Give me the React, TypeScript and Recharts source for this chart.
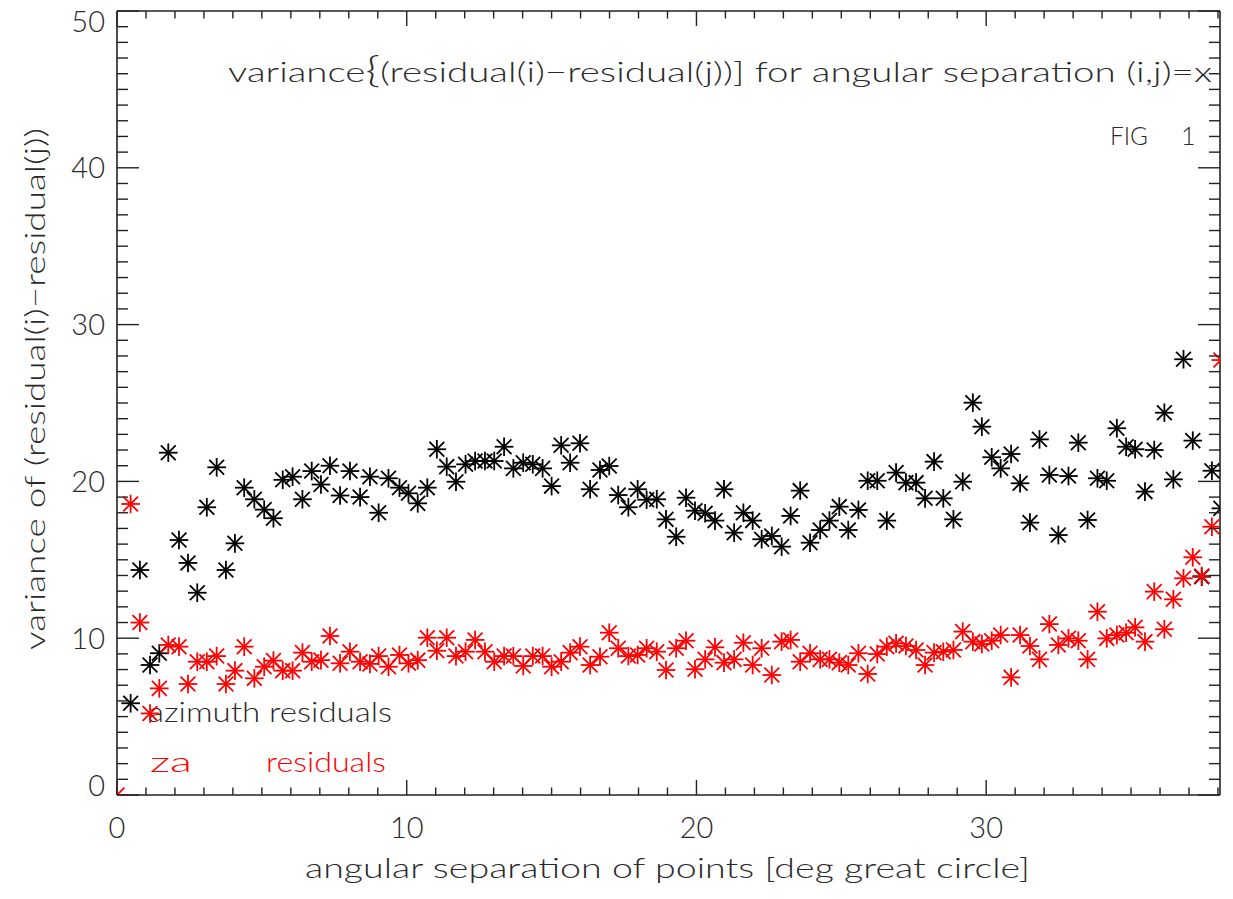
import React from 'react';
import { ScatterChart, Scatter, XAxis, YAxis, Customized } from 'recharts';

// angular separation [deg great circle]; first slot is the x=0 point
const separation = [
  0.0, 0.47, 0.79, 1.14, 1.46, 1.77, 2.14, 2.45, 2.77, 3.1, 3.44, 3.76, 4.07, 4.39, 4.74, 5.08, 5.4, 5.72, 6.06,
  6.4, 6.72, 7.04, 7.35, 7.7, 8.04, 8.39, 8.73, 9.03, 9.37, 9.75, 10.06, 10.38, 10.71, 11.04, 11.38, 11.7,
  12.03, 12.36, 12.7, 13.02, 13.36, 13.68, 14.02, 14.35, 14.69, 15.0, 15.33, 15.64, 15.98, 16.33, 16.67,
  16.99, 17.3, 17.65, 17.97, 18.28, 18.63, 18.95, 19.3, 19.64, 19.95, 20.3, 20.64, 20.95, 21.3, 21.62,
  21.94, 22.25, 22.6, 22.94, 23.25, 23.58, 23.92, 24.27, 24.59, 24.93, 25.24, 25.59, 25.91, 26.24, 26.57,
  26.89, 27.23, 27.58, 27.89, 28.2, 28.52, 28.87, 29.19, 29.54, 29.85, 30.19, 30.5, 30.86, 31.17, 31.51,
  31.84, 32.18, 32.49, 32.84, 33.18, 33.5, 33.84, 34.16, 34.51, 34.83, 35.14, 35.48, 35.8, 36.15, 36.46,
  36.81, 37.13, 37.44, 37.79, 38.1,
];

// variance of (residual(i)-residual(j)), azimuth residuals (black)
const azimuthVar = [
  null, 5.85, 14.35, 8.29, 9.04, 21.83, 16.26, 14.8, 12.9, 18.35, 20.9, 14.35, 16.05, 19.6, 18.86, 18.2,
  17.65, 20.1, 20.3, 18.86, 20.66, 19.8, 21.0, 19.1, 20.66, 19.0, 20.3, 18.0, 20.2, 19.6, 19.24, 18.6,
  19.6, 22.05, 20.94, 19.98, 21.09, 21.3, 21.3, 21.3, 22.21, 20.83, 21.19, 21.09, 20.83, 19.7, 22.3,
  21.19, 22.43, 19.5, 20.73, 20.98, 19.13, 18.35, 19.5, 18.83, 18.86, 17.58, 16.47, 18.96, 18.13, 17.97,
  17.5, 19.5, 16.73, 18.0, 17.5, 16.31, 16.52, 15.84, 17.8, 19.41, 16.09, 16.9, 17.5, 18.39, 16.9, 18.18,
  20.04, 20.04, 17.5, 20.56, 19.92, 19.92, 18.92, 21.26, 18.92, 17.58, 19.98, 25.02, 23.49, 21.54, 20.83,
  21.75, 19.88, 17.37, 22.68, 20.41, 16.58, 20.34, 22.47, 17.54, 20.2, 20.04, 23.39, 22.21, 22.05, 19.35,
  22.0, 24.38, 20.13, 27.79, 22.6, 13.92, 20.68, 18.28,
];

// za residuals (red)
const zaVar = [
  0.0, 18.56, 11.0, 5.2, 6.8, 9.57, 9.46, 7.08, 8.5, 8.5, 8.86, 7.08, 7.93, 9.46, 7.44, 8.18, 8.57, 7.93,
  7.93, 9.08, 8.5, 8.6, 10.14, 8.4, 9.14, 8.5, 8.36, 8.86, 8.18, 8.93, 8.4, 8.6, 10.03, 9.2, 10.03, 8.86,
  9.14, 9.89, 9.14, 8.5, 8.86, 8.86, 8.23, 8.86, 8.86, 8.18, 8.5, 9.08, 9.46, 8.29, 8.82, 10.35, 9.36,
  8.86, 8.93, 9.36, 9.14, 7.97, 9.36, 9.84, 8.02, 8.65, 9.42, 8.44, 8.65, 9.71, 8.29, 9.36, 7.65, 9.78,
  9.89, 8.5, 9.04, 8.65, 8.65, 8.44, 8.29, 9.04, 7.72, 8.99, 9.46, 9.67, 9.5, 9.25, 8.29, 9.08, 9.14,
  9.25, 10.42, 9.78, 9.63, 9.84, 10.2, 7.5, 10.2, 9.5, 8.65, 10.9, 9.57, 9.99, 9.84, 8.65, 11.69, 9.99,
  10.2, 10.35, 10.69, 9.78, 12.97, 10.57, 12.48, 13.82, 15.16, 13.97, 17.11, 27.74,
];

const xMajorTicks = [0, 10, 20, 30];
const yMajorTicks = [0, 10, 20, 30, 40, 50];
const xAllTicks = Array.from({ length: 39 }, (_, i) => i);
const yAllTicks = Array.from({ length: 51 }, (_, i) => i);

const azimuthData = separation
  .map((x, i) => ({ x, y: azimuthVar[i] }))
  .filter((d) => d.y !== null && d.y !== undefined);
const zaData = separation
  .map((x, i) => ({ x, y: zaVar[i] }))
  .filter((d) => d.y !== null && d.y !== undefined);

const FONT = "Lato, 'DejaVu Sans', sans-serif";
const TEXT = '#2a2a2a';
const TICK = '#222';
const TW = 1.4;
const X_DOMAIN: [number, number] = [0, 38.07];
const Y_DOMAIN: [number, number] = [0, 50];

const makeStar = (color: string) => (props: any) => {
  const { cx, cy } = props;
  if (cx == null || cy == null) return <g />;
  const r = 9.3;
  const d = 7.4;
  return (
    <g stroke={color} strokeWidth={1.8}>
      <line x1={cx - r} y1={cy} x2={cx + r} y2={cy} />
      <line x1={cx} y1={cy - r} x2={cx} y2={cy + r} />
      <line x1={cx - d} y1={cy - d} x2={cx + d} y2={cy + d} />
      <line x1={cx - d} y1={cy + d} x2={cx + d} y2={cy - d} />
    </g>
  );
};

const BottomTick = (props: any) => {
  const { x, y, payload } = props;
  const v = payload.value;
  const major = xMajorTicks.includes(v);
  return (
    <g>
      <line x1={x} y1={y} x2={x} y2={y - (major ? 15 : 7.5)} stroke={TICK} strokeWidth={TW} />
      {major && (
        <text x={x} y={y + 43} textAnchor="middle" fontSize={29} fontFamily={FONT} fontWeight={300} fill={TEXT}>
          {v}
        </text>
      )}
    </g>
  );
};

const TopTick = (props: any) => {
  const { x, y, payload } = props;
  const major = xMajorTicks.includes(payload.value);
  return (
    <g>
      <line x1={x} y1={y} x2={x} y2={y + (major ? 15 : 7.5)} stroke={TICK} strokeWidth={TW} />
    </g>
  );
};

const LeftTick = (props: any) => {
  const { x, y, payload } = props;
  const v = payload.value;
  const major = yMajorTicks.includes(v);
  // end labels sit inside the frame, as in the original
  const shift = v === 0 ? -10 : v === 50 ? 10 : 0;
  return (
    <g>
      <line x1={x} y1={y} x2={x + (major ? 22 : 11)} y2={y} stroke={TICK} strokeWidth={TW} />
      {major && (
        <text x={x - 12} y={y + 10.5 + shift} textAnchor="end" fontSize={29} fontFamily={FONT} fontWeight={300} fill={TEXT}>
          {v}
        </text>
      )}
    </g>
  );
};

const RightTick = (props: any) => {
  const { x, y, payload } = props;
  const major = yMajorTicks.includes(payload.value);
  return (
    <g>
      <line x1={x} y1={y} x2={x - (major ? 22 : 11)} y2={y} stroke={TICK} strokeWidth={TW} />
    </g>
  );
};

const Annotations = () => (
  <g fontFamily={FONT} fontWeight={300} fontSize={28}>
    <text x={228} y={82} fill={TEXT} textLength={984} lengthAdjust="spacingAndGlyphs">
      variance<tspan fontSize={36}>{'{'}</tspan>(residual(i)−residual(j))] for angular separation (i,j)=x
    </text>
    <text x={1110} y={145} fill={TEXT} fontSize={25} textLength={38} lengthAdjust="spacingAndGlyphs">
      FIG
    </text>
    <text x={1181} y={145} fill={TEXT} fontSize={25}>
      1
    </text>
    <text x={148} y={722} fill={TEXT} textLength={244} lengthAdjust="spacingAndGlyphs">
      azimuth residuals
    </text>
    <text x={150} y={772} fill="#ff0000" textLength={42} lengthAdjust="spacingAndGlyphs">
      za
    </text>
    <text x={266} y={772} fill="#ff0000" textLength={120} lengthAdjust="spacingAndGlyphs">
      residuals
    </text>
    <text x={305} y={878} fill={TEXT} textLength={725} lengthAdjust="spacingAndGlyphs">
      angular separation of points [deg great circle]
    </text>
    <text
      x={0}
      y={0}
      fill={TEXT}
      textLength={522}
      lengthAdjust="spacingAndGlyphs"
      transform="translate(45, 650) rotate(-90)"
    >
      variance of (residual(i)−residual(j))
    </text>
  </g>
);

export default function App() {
  return (
    <div style={{ position: 'absolute', left: 0, top: 0, background: '#fff' }}>
      <ScatterChart width={1233} height={899} margin={{ top: 10, right: 12, bottom: 0, left: 0 }}>
        <XAxis
          xAxisId="b"
          type="number"
          dataKey="x"
          domain={X_DOMAIN}
          allowDataOverflow
          ticks={xAllTicks}
          interval={0}
          height={104}
          tickSize={0}
          tickMargin={0}
          tick={<BottomTick />}
          axisLine={{ stroke: '#222', strokeWidth: 1.6 }}
        />
        <XAxis
          xAxisId="t"
          orientation="top"
          type="number"
          dataKey="x"
          domain={X_DOMAIN}
          allowDataOverflow
          ticks={xAllTicks}
          interval={0}
          height={1}
          tickSize={0}
          tickMargin={0}
          tick={<TopTick />}
          axisLine={{ stroke: '#222', strokeWidth: 1.6 }}
        />
        <YAxis
          yAxisId="l"
          type="number"
          dataKey="y"
          domain={Y_DOMAIN}
          allowDataOverflow
          ticks={yAllTicks}
          interval={0}
          width={117}
          tickSize={0}
          tickMargin={0}
          tick={<LeftTick />}
          axisLine={{ stroke: '#222', strokeWidth: 1.6 }}
        />
        <YAxis
          yAxisId="r"
          orientation="right"
          type="number"
          dataKey="y"
          domain={Y_DOMAIN}
          allowDataOverflow
          ticks={yAllTicks}
          interval={0}
          width={1}
          tickSize={0}
          tickMargin={0}
          tick={<RightTick />}
          axisLine={{ stroke: '#222', strokeWidth: 1.6 }}
        />
        <Scatter
          xAxisId="b"
          yAxisId="l"
          data={azimuthData}
          shape={makeStar('#000000')}
          isAnimationActive={false}
        />
        {/* same domains and ranges, bound to the top/right pair so those frame axes render too */}
        <Scatter
          xAxisId="t"
          yAxisId="r"
          data={zaData}
          shape={makeStar('#ff0000')}
          isAnimationActive={false}
        />
        <Customized component={Annotations} />
      </ScatterChart>
    </div>
  );
}
